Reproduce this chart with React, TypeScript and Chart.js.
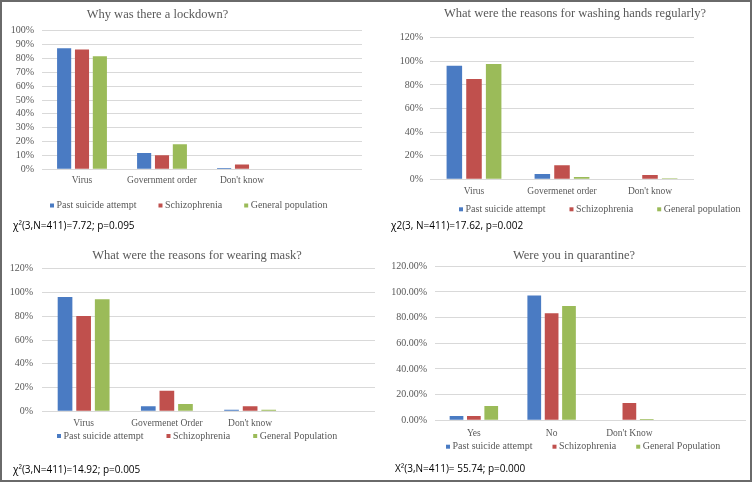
import React, { useEffect, useRef } from "react";
import { Chart, registerables } from "chart.js";

Chart.register(...registerables);

// ---------- data ----------
const COLORS = ["#4a7bc3", "#c0504d", "#9bbb59"];

const lockdownSeries = ["Past suicide attempt", "Schizophrenia", "General population"];
const lockdownCats = ["Virus", "Government order", "Don't know", ""];
const lockdownPast = [87.3, 11.8, 0.9, null];
const lockdownSchizo = [86.5, 10.1, 3.4, null];
const lockdownGeneral = [81.5, 18.1, 0, null];
const lockdownTicks = { max: 100, step: 10, decimals: 0 };
const lockdownNote = "χ²(3,N=411)=7.72; p=0.095";

const handsSeries = ["Past suicide attempt", "Schizophrenia", "General population"];
const handsCats = ["Virus", "Govermenet order", "Don't know"];
const handsPast = [96.3, 4.5, 0];
const handsSchizo = [85.0, 11.9, 3.6];
const handsGeneral = [97.7, 2.0, 0.8];
const handsTicks = { max: 120, step: 20, decimals: 0 };
const handsNote = "χ2(3, N=411)=17.62, p=0.002";

const maskSeries = ["Past suicide attempt", "Schizophrenia", "General Population"];
const maskCats = ["Virus", "Govermenet Order", "Don't know", ""];
const maskPast = [96.2, 4.2, 1.4, null];
const maskSchizo = [80.2, 17.3, 4.2, null];
const maskGeneral = [94.2, 6.1, 1.4, null];
const maskTicks = { max: 120, step: 20, decimals: 0 };
const maskNote = "χ²(3,N=411)=14.92; p=0.005";

const quarSeries = ["Past suicide attempt", "Schizophrenia", "General Population"];
const quarCats = ["Yes", "No", "Don't Know", ""];
const quarPast = [3.3, 97.3, 0, null];
const quarSchizo = [3.3, 83.5, 13.5, null];
const quarGeneral = [11.1, 89.0, 1.0, null];
const quarTicks = { max: 120, step: 20, decimals: 2 };
const quarNote = "X²(3,N=411)= 55.74; p=0.000";

// ---------- decoration plugin (title, legend, note) ----------
const decorPlugin = {
  id: "decor",
  afterDraw(chart: any, _args: any, opts: any) {
    const ctx = chart.ctx;
    ctx.save();
    ctx.textBaseline = "middle";
    // title
    ctx.font = '12.5px "Liberation Serif"';
    ctx.fillStyle = "#595959";
    ctx.textAlign = "center";
    ctx.fillText(opts.title, opts.titleX, opts.titleY);
    // legend
    ctx.font = '10px "Liberation Serif"';
    ctx.textAlign = "left";
    let x = opts.legendX;
    chart.data.datasets.forEach((ds: any) => {
      ctx.fillStyle = ds.backgroundColor;
      ctx.fillRect(x, opts.legendY - 2, 4, 4);
      x += 6.5;
      ctx.fillStyle = "#595959";
      ctx.fillText(ds.label, x, opts.legendY);
      x += ctx.measureText(ds.label).width + opts.legendGap;
    });
    // statistics note
    ctx.font = '500 10px "Open Sans"';
    ctx.fillStyle = "#000000";
    ctx.fillText(opts.note, opts.noteX, opts.noteY);
    ctx.restore();
  },
};

type PanelProps = {
  left: number;
  top: number;
  width: number;
  height: number;
  cats: string[];
  series: string[];
  values: (number | null)[][];
  ticks: { max: number; step: number; decimals: number };
  area: { l: number; r: number; t: number; b: number };
  yPad: number;
  xPad: number;
  title: string;
  titleX: number;
  titleY: number;
  legendX: number;
  legendY: number;
  legendGap: number;
  note: string;
  noteX: number;
  noteY: number;
};

const X_AXIS_H = 22;

function Panel(p: PanelProps) {
  const ref = useRef<HTMLCanvasElement | null>(null);
  useEffect(() => {
    if (!ref.current) return;
    const chart = new Chart(ref.current, {
      type: "bar",
      data: {
        labels: p.cats,
        datasets: p.series.map((s, i) => ({
          label: s,
          data: p.values[i],
          backgroundColor: COLORS[i],
          borderWidth: 0,
          categoryPercentage: 0.67,
          barPercentage: 0.79,
        })),
      },
      plugins: [decorPlugin],
      options: {
        responsive: false,
        animation: false,
        devicePixelRatio: 1,
        layout: {
          padding: {
            left: 0,
            top: p.area.t,
            right: p.width - p.area.r,
            bottom: p.height - p.area.b - X_AXIS_H,
          },
        },
        plugins: {
          legend: { display: false },
          title: { display: false },
          tooltip: { enabled: false },
          decor: {
            title: p.title,
            titleX: p.titleX,
            titleY: p.titleY,
            legendX: p.legendX,
            legendY: p.legendY,
            legendGap: p.legendGap,
            note: p.note,
            noteX: p.noteX,
            noteY: p.noteY,
          },
        } as any,
        scales: {
          x: {
            grid: { display: false, drawTicks: false },
            border: { display: false },
            ticks: {
              color: "#595959",
              font: { family: '"Liberation Serif"', size: 9.5 },
              padding: p.xPad,
              maxRotation: 0,
              autoSkip: false,
            },
            afterFit: (s: any) => {
              s.height = X_AXIS_H;
            },
          },
          y: {
            min: 0,
            max: p.ticks.max,
            grid: { color: "#d9d9d9", lineWidth: 1, drawTicks: false },
            border: { display: false },
            ticks: {
              stepSize: p.ticks.step,
              autoSkip: false,
              color: "#595959",
              font: { family: '"Liberation Serif"', size: 10 },
              padding: p.yPad,
              callback: (v: any) => Number(v).toFixed(p.ticks.decimals) + "%",
            },
            afterFit: (s: any) => {
              s.width = p.area.l;
            },
          },
        },
      },
    });
    return () => chart.destroy();
  }, []);
  return (
    <canvas
      ref={ref}
      width={p.width}
      height={p.height}
      style={{ position: "absolute", left: p.left, top: p.top, width: p.width, height: p.height }}
    />
  );
}

export default function App() {
  return (
    <div
      style={{
        position: "absolute",
        left: 0,
        top: 0,
        width: 756,
        height: 485,
        background: "#ffffff",
        overflow: "hidden",
      }}
    >
      <div
        style={{
          position: "absolute",
          left: 0,
          top: 0,
          width: 752,
          height: 482,
          border: "2px solid #6a6a6a",
          boxSizing: "border-box",
        }}
      />
      <Panel
        left={0}
        top={0}
        width={378}
        height={242}
        cats={lockdownCats}
        series={lockdownSeries}
        values={[lockdownPast, lockdownSchizo, lockdownGeneral]}
        ticks={lockdownTicks}
        area={{ l: 42, r: 362, t: 30.7, b: 169.3 }}
        yPad={8}
        xPad={5}
        title="Why was there a lockdown?"
        titleX={157.5}
        titleY={15}
        legendX={50}
        legendY={205.5}
        legendGap={22}
        note={lockdownNote}
        noteX={13}
        noteY={226}
      />
      <Panel
        left={378}
        top={0}
        width={378}
        height={242}
        cats={handsCats}
        series={handsSeries}
        values={[handsPast, handsSchizo, handsGeneral]}
        ticks={handsTicks}
        area={{ l: 52, r: 316, t: 37.7, b: 179.3 }}
        yPad={7}
        xPad={6.5}
        title="What were the reasons for washing hands regularly?"
        titleX={197}
        titleY={14}
        legendX={81}
        legendY={209.3}
        legendGap={24}
        note={handsNote}
        noteX={13}
        noteY={225.7}
      />
      <Panel
        left={0}
        top={242}
        width={378}
        height={243}
        cats={maskCats}
        series={maskSeries}
        values={[maskPast, maskSchizo, maskGeneral]}
        ticks={maskTicks}
        area={{ l: 42, r: 375, t: 26.7, b: 169.3 }}
        yPad={9}
        xPad={6}
        title="What were the reasons for wearing mask?"
        titleX={197}
        titleY={14}
        legendX={57}
        legendY={194}
        legendGap={23}
        note={maskNote}
        noteX={13}
        noteY={227.7}
      />
      <Panel
        left={378}
        top={242}
        width={378}
        height={243}
        cats={quarCats}
        series={quarSeries}
        values={[quarPast, quarSchizo, quarGeneral]}
        ticks={quarTicks}
        area={{ l: 57, r: 368, t: 24.3, b: 178.3 }}
        yPad={8}
        xPad={7}
        title="Were you in quarantine?"
        titleX={196}
        titleY={14}
        legendX={68}
        legendY={204.7}
        legendGap={20}
        note={quarNote}
        noteX={17}
        noteY={227}
      />
    </div>
  );
}
